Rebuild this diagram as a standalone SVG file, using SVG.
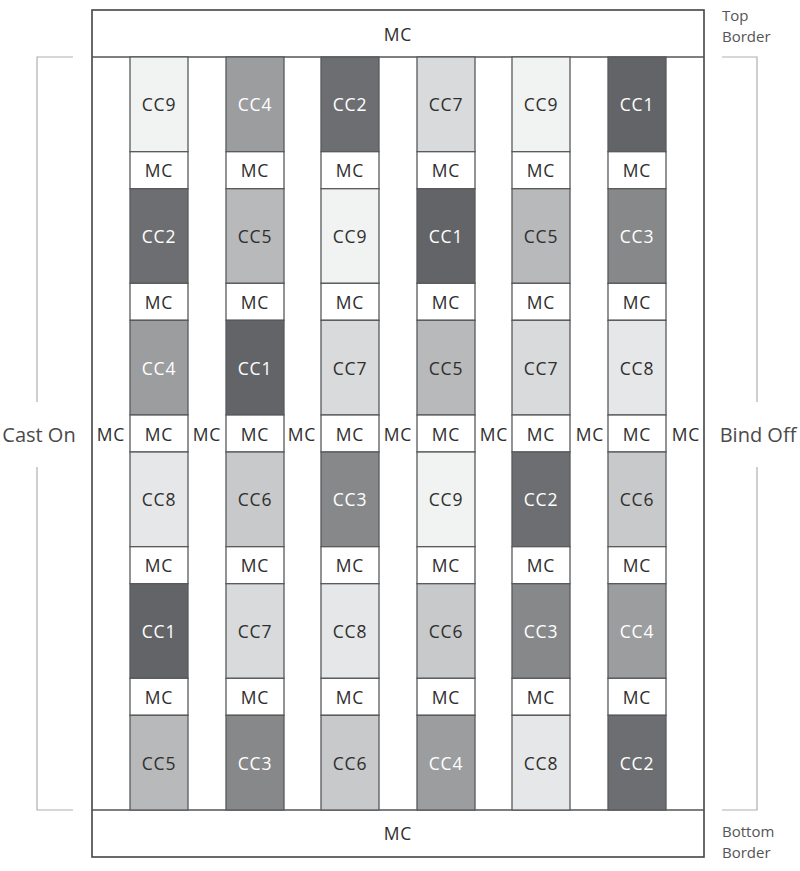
<svg xmlns="http://www.w3.org/2000/svg" width="800" height="871" viewBox="0 0 800 871">
<style>
text{font-family:"Open Sans","Liberation Sans",sans-serif;text-anchor:middle;dominant-baseline:central}
.b{stroke:#58595b;stroke-width:1.3}
.lab{font-size:17.5px;letter-spacing:0.8px}
.dk{fill:#2e2e2e}
.wt{fill:#ffffff}
.side{font-size:20px;fill:#4a4a4a}
.bl{font-size:15px;fill:#555;text-anchor:start;dominant-baseline:auto}
.br{stroke:#b0b0b0;stroke-width:1.2;fill:none}
.c1{fill:#636467}.c2{fill:#6d6e71}.c3{fill:#87888a}.c4{fill:#9c9d9f}.c5{fill:#b8b9bb}
.c6{fill:#c8c9cb}.c7{fill:#d9dadb}.c8{fill:#e6e7e8}.c9{fill:#f1f2f2}.mc{fill:#ffffff}
</style>
<rect width="800" height="871" fill="#fff"/>
<g id="frame">
<rect x="92" y="10" width="612" height="847" fill="#fff" stroke="#444" stroke-width="1.6"/>
<line x1="92" y1="57" x2="704" y2="57" stroke="#555" stroke-width="1.3"/>
<line x1="92" y1="810" x2="704" y2="810" stroke="#555" stroke-width="1.3"/>
</g>
<g id="top-border"><text class="lab dk" x="398" y="34">MC</text></g>
<g id="bottom-border"><text class="lab dk" x="398" y="833">MC</text></g>
<g id="strips">
<text class="lab dk" x="111" y="434">MC</text>
<text class="lab dk" x="207" y="434">MC</text>
<text class="lab dk" x="302" y="434">MC</text>
<text class="lab dk" x="398" y="434">MC</text>
<text class="lab dk" x="494" y="434">MC</text>
<text class="lab dk" x="590" y="434">MC</text>
<text class="lab dk" x="686" y="434">MC</text>
</g>
<g id="connectors">
<polyline class="br" points="73,57 37,57 37,402"/>
<polyline class="br" points="37,467 37,810 73,810"/>
<polyline class="br" points="722,57 757,57 757,402"/>
<polyline class="br" points="757,467 757,810 722,810"/>
</g>
<g id="labels">
<text class="side" x="39" y="434">Cast On</text>
<text class="side" x="758" y="434">Bind Off</text>
<text class="bl" x="722" y="21">Top</text>
<text class="bl" x="722" y="42">Border</text>
<text class="bl" x="722" y="837">Bottom</text>
<text class="bl" x="722" y="858">Border</text>
</g>
<g id="col1">
<g id="c1r1"><rect class="b c9" x="130" y="57" width="58" height="94.7"/><text class="lab dk" x="159" y="104.3">CC9</text></g>
<g id="c1m1"><rect class="b mc" x="130" y="151.7" width="58" height="37"/><text class="lab dk" x="159" y="170.2">MC</text></g>
<g id="c1r2"><rect class="b c2" x="130" y="188.7" width="58" height="94.7"/><text class="lab wt" x="159" y="236">CC2</text></g>
<g id="c1m2"><rect class="b mc" x="130" y="283.3" width="58" height="37"/><text class="lab dk" x="159" y="301.8">MC</text></g>
<g id="c1r3"><rect class="b c4" x="130" y="320.3" width="58" height="94.7"/><text class="lab wt" x="159" y="367.7">CC4</text></g>
<g id="c1m3"><rect class="b mc" x="130" y="415" width="58" height="37"/><text class="lab dk" x="159" y="433.5">MC</text></g>
<g id="c1r4"><rect class="b c8" x="130" y="452" width="58" height="94.7"/><text class="lab dk" x="159" y="499.3">CC8</text></g>
<g id="c1m4"><rect class="b mc" x="130" y="546.7" width="58" height="37"/><text class="lab dk" x="159" y="565.2">MC</text></g>
<g id="c1r5"><rect class="b c1" x="130" y="583.7" width="58" height="94.7"/><text class="lab wt" x="159" y="631">CC1</text></g>
<g id="c1m5"><rect class="b mc" x="130" y="678.3" width="58" height="37"/><text class="lab dk" x="159" y="696.8">MC</text></g>
<g id="c1r6"><rect class="b c5" x="130" y="715.3" width="58" height="94.7"/><text class="lab dk" x="159" y="762.7">CC5</text></g>
</g>
<g id="col2">
<g id="c2r1"><rect class="b c4" x="226" y="57" width="58" height="94.7"/><text class="lab wt" x="255" y="104.3">CC4</text></g>
<g id="c2m1"><rect class="b mc" x="226" y="151.7" width="58" height="37"/><text class="lab dk" x="255" y="170.2">MC</text></g>
<g id="c2r2"><rect class="b c5" x="226" y="188.7" width="58" height="94.7"/><text class="lab dk" x="255" y="236">CC5</text></g>
<g id="c2m2"><rect class="b mc" x="226" y="283.3" width="58" height="37"/><text class="lab dk" x="255" y="301.8">MC</text></g>
<g id="c2r3"><rect class="b c1" x="226" y="320.3" width="58" height="94.7"/><text class="lab wt" x="255" y="367.7">CC1</text></g>
<g id="c2m3"><rect class="b mc" x="226" y="415" width="58" height="37"/><text class="lab dk" x="255" y="433.5">MC</text></g>
<g id="c2r4"><rect class="b c6" x="226" y="452" width="58" height="94.7"/><text class="lab dk" x="255" y="499.3">CC6</text></g>
<g id="c2m4"><rect class="b mc" x="226" y="546.7" width="58" height="37"/><text class="lab dk" x="255" y="565.2">MC</text></g>
<g id="c2r5"><rect class="b c7" x="226" y="583.7" width="58" height="94.7"/><text class="lab dk" x="255" y="631">CC7</text></g>
<g id="c2m5"><rect class="b mc" x="226" y="678.3" width="58" height="37"/><text class="lab dk" x="255" y="696.8">MC</text></g>
<g id="c2r6"><rect class="b c3" x="226" y="715.3" width="58" height="94.7"/><text class="lab wt" x="255" y="762.7">CC3</text></g>
</g>
<g id="col3">
<g id="c3r1"><rect class="b c2" x="321" y="57" width="58" height="94.7"/><text class="lab wt" x="350" y="104.3">CC2</text></g>
<g id="c3m1"><rect class="b mc" x="321" y="151.7" width="58" height="37"/><text class="lab dk" x="350" y="170.2">MC</text></g>
<g id="c3r2"><rect class="b c9" x="321" y="188.7" width="58" height="94.7"/><text class="lab dk" x="350" y="236">CC9</text></g>
<g id="c3m2"><rect class="b mc" x="321" y="283.3" width="58" height="37"/><text class="lab dk" x="350" y="301.8">MC</text></g>
<g id="c3r3"><rect class="b c7" x="321" y="320.3" width="58" height="94.7"/><text class="lab dk" x="350" y="367.7">CC7</text></g>
<g id="c3m3"><rect class="b mc" x="321" y="415" width="58" height="37"/><text class="lab dk" x="350" y="433.5">MC</text></g>
<g id="c3r4"><rect class="b c3" x="321" y="452" width="58" height="94.7"/><text class="lab wt" x="350" y="499.3">CC3</text></g>
<g id="c3m4"><rect class="b mc" x="321" y="546.7" width="58" height="37"/><text class="lab dk" x="350" y="565.2">MC</text></g>
<g id="c3r5"><rect class="b c8" x="321" y="583.7" width="58" height="94.7"/><text class="lab dk" x="350" y="631">CC8</text></g>
<g id="c3m5"><rect class="b mc" x="321" y="678.3" width="58" height="37"/><text class="lab dk" x="350" y="696.8">MC</text></g>
<g id="c3r6"><rect class="b c6" x="321" y="715.3" width="58" height="94.7"/><text class="lab dk" x="350" y="762.7">CC6</text></g>
</g>
<g id="col4">
<g id="c4r1"><rect class="b c7" x="417" y="57" width="58" height="94.7"/><text class="lab dk" x="446" y="104.3">CC7</text></g>
<g id="c4m1"><rect class="b mc" x="417" y="151.7" width="58" height="37"/><text class="lab dk" x="446" y="170.2">MC</text></g>
<g id="c4r2"><rect class="b c1" x="417" y="188.7" width="58" height="94.7"/><text class="lab wt" x="446" y="236">CC1</text></g>
<g id="c4m2"><rect class="b mc" x="417" y="283.3" width="58" height="37"/><text class="lab dk" x="446" y="301.8">MC</text></g>
<g id="c4r3"><rect class="b c5" x="417" y="320.3" width="58" height="94.7"/><text class="lab dk" x="446" y="367.7">CC5</text></g>
<g id="c4m3"><rect class="b mc" x="417" y="415" width="58" height="37"/><text class="lab dk" x="446" y="433.5">MC</text></g>
<g id="c4r4"><rect class="b c9" x="417" y="452" width="58" height="94.7"/><text class="lab dk" x="446" y="499.3">CC9</text></g>
<g id="c4m4"><rect class="b mc" x="417" y="546.7" width="58" height="37"/><text class="lab dk" x="446" y="565.2">MC</text></g>
<g id="c4r5"><rect class="b c6" x="417" y="583.7" width="58" height="94.7"/><text class="lab dk" x="446" y="631">CC6</text></g>
<g id="c4m5"><rect class="b mc" x="417" y="678.3" width="58" height="37"/><text class="lab dk" x="446" y="696.8">MC</text></g>
<g id="c4r6"><rect class="b c4" x="417" y="715.3" width="58" height="94.7"/><text class="lab wt" x="446" y="762.7">CC4</text></g>
</g>
<g id="col5">
<g id="c5r1"><rect class="b c9" x="512" y="57" width="58" height="94.7"/><text class="lab dk" x="541" y="104.3">CC9</text></g>
<g id="c5m1"><rect class="b mc" x="512" y="151.7" width="58" height="37"/><text class="lab dk" x="541" y="170.2">MC</text></g>
<g id="c5r2"><rect class="b c5" x="512" y="188.7" width="58" height="94.7"/><text class="lab dk" x="541" y="236">CC5</text></g>
<g id="c5m2"><rect class="b mc" x="512" y="283.3" width="58" height="37"/><text class="lab dk" x="541" y="301.8">MC</text></g>
<g id="c5r3"><rect class="b c7" x="512" y="320.3" width="58" height="94.7"/><text class="lab dk" x="541" y="367.7">CC7</text></g>
<g id="c5m3"><rect class="b mc" x="512" y="415" width="58" height="37"/><text class="lab dk" x="541" y="433.5">MC</text></g>
<g id="c5r4"><rect class="b c2" x="512" y="452" width="58" height="94.7"/><text class="lab wt" x="541" y="499.3">CC2</text></g>
<g id="c5m4"><rect class="b mc" x="512" y="546.7" width="58" height="37"/><text class="lab dk" x="541" y="565.2">MC</text></g>
<g id="c5r5"><rect class="b c3" x="512" y="583.7" width="58" height="94.7"/><text class="lab wt" x="541" y="631">CC3</text></g>
<g id="c5m5"><rect class="b mc" x="512" y="678.3" width="58" height="37"/><text class="lab dk" x="541" y="696.8">MC</text></g>
<g id="c5r6"><rect class="b c8" x="512" y="715.3" width="58" height="94.7"/><text class="lab dk" x="541" y="762.7">CC8</text></g>
</g>
<g id="col6">
<g id="c6r1"><rect class="b c1" x="608" y="57" width="58" height="94.7"/><text class="lab wt" x="637" y="104.3">CC1</text></g>
<g id="c6m1"><rect class="b mc" x="608" y="151.7" width="58" height="37"/><text class="lab dk" x="637" y="170.2">MC</text></g>
<g id="c6r2"><rect class="b c3" x="608" y="188.7" width="58" height="94.7"/><text class="lab wt" x="637" y="236">CC3</text></g>
<g id="c6m2"><rect class="b mc" x="608" y="283.3" width="58" height="37"/><text class="lab dk" x="637" y="301.8">MC</text></g>
<g id="c6r3"><rect class="b c8" x="608" y="320.3" width="58" height="94.7"/><text class="lab dk" x="637" y="367.7">CC8</text></g>
<g id="c6m3"><rect class="b mc" x="608" y="415" width="58" height="37"/><text class="lab dk" x="637" y="433.5">MC</text></g>
<g id="c6r4"><rect class="b c6" x="608" y="452" width="58" height="94.7"/><text class="lab dk" x="637" y="499.3">CC6</text></g>
<g id="c6m4"><rect class="b mc" x="608" y="546.7" width="58" height="37"/><text class="lab dk" x="637" y="565.2">MC</text></g>
<g id="c6r5"><rect class="b c4" x="608" y="583.7" width="58" height="94.7"/><text class="lab wt" x="637" y="631">CC4</text></g>
<g id="c6m5"><rect class="b mc" x="608" y="678.3" width="58" height="37"/><text class="lab dk" x="637" y="696.8">MC</text></g>
<g id="c6r6"><rect class="b c2" x="608" y="715.3" width="58" height="94.7"/><text class="lab wt" x="637" y="762.7">CC2</text></g>
</g>
</svg>
